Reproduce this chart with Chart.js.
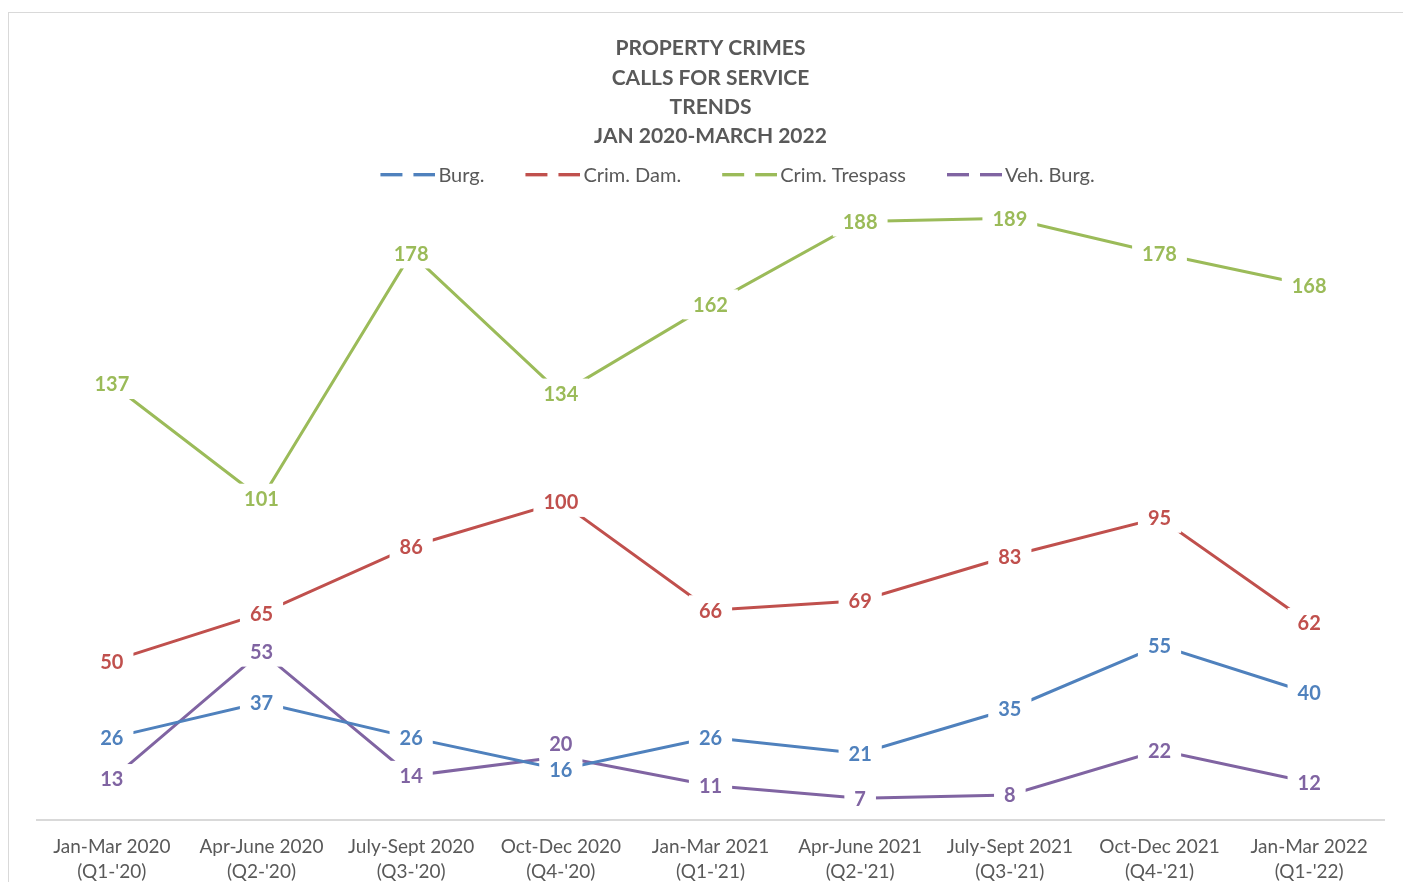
<!DOCTYPE html>
<html>
<head>
<meta charset="utf-8">
<script src="https://cdn.jsdelivr.net/npm/chart.js@4/dist/chart.umd.min.js"></script>
<style>
  body { margin: 0; background: #fff; overflow: hidden; }
  #frame { position: absolute; left: 8px; top: 12px; width: 1500px; height: 1000px; border: 1px solid #d9d9d9; }
  #wrap { position: absolute; left: 0; top: 0; width: 1403px; height: 882px; }
</style>
</head>
<body>
<div id="frame"></div>
<div id="wrap"><canvas id="chart"></canvas></div>
<script>
const quarters = [
    ["Jan-Mar 2020", "(Q1-'20)"],
    ["Apr-June 2020", "(Q2-'20)"],
    ["July-Sept 2020", "(Q3-'20)"],
    ["Oct-Dec 2020", "(Q4-'20)"],
    ["Jan-Mar 2021", "(Q1-'21)"],
    ["Apr-June 2021", "(Q2-'21)"],
    ["July-Sept 2021", "(Q3-'21)"],
    ["Oct-Dec 2021", "(Q4-'21)"],
    ["Jan-Mar 2022", "(Q1-'22)"]
];
const burg = [26, 37, 26, 16, 26, 21, 35, 55, 40];
const crimDam = [50, 65, 86, 100, 66, 69, 83, 95, 62];
const crimTrespass = [137, 101, 178, 134, 162, 188, 189, 178, 168];
const vehBurg = [13, 53, 14, 20, 11, 7, 8, 22, 12];

const titleLines = ["PROPERTY CRIMES", "CALLS FOR SERVICE", "TRENDS", "JAN 2020-MARCH 2022"];

const COLORS = {
    blue: '#4f81bd',
    red: '#c0504d',
    green: '#9bbb59',
    purple: '#8064a2'
};

// legend marker: two short dashes, drawn on a small canvas
function dashMarker(color) {
    var c = document.createElement('canvas');
    c.width = 97;
    c.height = 4;
    var g = c.getContext('2d');
    g.fillStyle = color;
    g.fillRect(42, 0, 22, 3);
    g.fillRect(75, 0, 22, 3);
    return c;
}

function makeSet(label, data, color) {
    return {
        label: label,
        data: data,
        borderColor: color,
        backgroundColor: color,
        borderWidth: 3,
        pointRadius: 0,
        pointHoverRadius: 0,
        tension: 0,
        pointStyle: dashMarker(color)
    };
}

// label "20" (Veh. Burg., Q4-'20) sits a bit higher so it does not cover "16"
const labelNudge = { 3: { 3: -13 } };

const pointLabels = {
    id: 'pointLabels',
    afterDatasetsDraw(chart) {
        const ctx = chart.ctx;
        ctx.save();
        ctx.font = 'bold 20px Lato, sans-serif';
        ctx.textAlign = 'center';
        ctx.textBaseline = 'middle';
        chart.data.datasets.forEach(function(ds, di) {
            const meta = chart.getDatasetMeta(di);
            meta.data.forEach(function(pt, i) {
                const txt = String(ds.data[i]);
                const dy = (labelNudge[di] && labelNudge[di][i]) || 0;
                const w = ctx.measureText(txt).width + 20;
                const h = 30;
                ctx.fillStyle = '#ffffff';
                ctx.fillRect(pt.x - w / 2, pt.y + dy - h / 2, w, h);
                ctx.fillStyle = ds.borderColor;
                ctx.fillText(txt, pt.x, pt.y + dy + 1);
            });
        });
        ctx.restore();
    }
};

// shift the legend row to the right a little and let its text overhang the plot top
const legendNudge = {
    id: 'legendNudge',
    afterLayout(chart) {
        if (chart.legend) {
            chart.legend.left += 19;
            chart.legend.bottom += 10;
        }
    }
};

const ctx = document.getElementById('chart');
new Chart(ctx, {
    type: 'line',
    data: {
        labels: quarters,
        datasets: [
            makeSet('Burg.', burg, COLORS.blue),
            makeSet('Crim. Dam.', crimDam, COLORS.red),
            makeSet('Crim. Trespass', crimTrespass, COLORS.green),
            makeSet('Veh. Burg.', vehBurg, COLORS.purple)
        ]
    },
    options: {
        responsive: true,
        maintainAspectRatio: false,
        animation: false,
        layout: { padding: { top: 12, left: 37, right: 19, bottom: -9 } },
        plugins: {
            title: {
                display: true,
                text: titleLines,
                color: '#595959',
                font: { family: 'Lato, sans-serif', size: 21, weight: 'bold', lineHeight: 1.3968 },
                padding: { top: 22, bottom: 8 }
            },
            legend: {
                display: true,
                maxHeight: 24,
                labels: {
                    usePointStyle: true,
                    pointStyleWidth: 83,
                    padding: 6,
                    color: '#595959',
                    font: { family: 'Lato, sans-serif', size: 20 }
                }
            },
            tooltip: { enabled: false }
        },
        scales: {
            x: {
                offset: true,
                grid: { display: false },
                border: { display: true, color: '#d9d9d9', width: 2 },
                ticks: {
                    color: '#595959',
                    padding: 6,
                    maxRotation: 0,
                    autoSkip: false,
                    font: { family: 'Lato, sans-serif', size: 19, lineHeight: 1.33 }
                }
            },
            y: {
                display: false,
                min: 0,
                max: 200
            }
        }
    },
    plugins: [pointLabels, legendNudge]
});
</script>
</body>
</html>
